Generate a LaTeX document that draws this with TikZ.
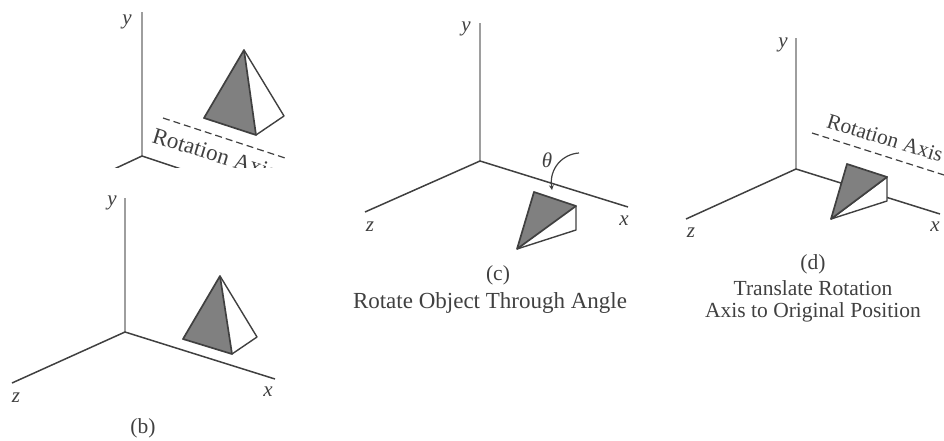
\documentclass[tikz,border=0pt]{standalone}
\usepackage{fontspec}
\setmainfont{Liberation Serif}
\usepackage{xcolor}
\usepackage{tikz}

\definecolor{facegray}{gray}{0.5}
\definecolor{axisgray}{gray}{0.62}
\definecolor{inkgray}{gray}{0.25}

\begin{document}
\begin{tikzpicture}[
  x=1pt,y=-1pt,
  axisx/.style={draw=inkgray,line width=1.5pt},
  axisy/.style={draw=axisgray,line width=1.9pt},
  pyredge/.style={draw=inkgray,line width=1.4pt,line join=round},
  pyrface/.style={draw=inkgray,fill=facegray,line width=1.7pt,line join=round},
  rotaxis/.style={draw=inkgray,line width=1.2pt,dash pattern=on 7pt off 4pt},
  axislabel/.style={inner sep=0pt,text=inkgray,font=\fontsize{21}{21}\selectfont\itshape},
  caption/.style={inner sep=0pt,text=inkgray,align=center,font=\fontsize{21.5}{22}\selectfont},
  rotlabel/.style={inner sep=0pt,text=inkgray,font=\fontsize{21.5}{22}\selectfont}
]
\useasboundingbox (0,0) rectangle (944,441);

% Panel a, cut off at the bottom
\begin{scope}
  \clip (100,0) rectangle (300,167);
  \coordinate (ao) at (142,156);
  \coordinate (ay) at (142,12);
  \coordinate (az) at (112,170);
  \coordinate (ax) at (184,170);
  \draw[axisy] (ao) -- (ay);
  \draw[axisx] (az) -- (ao) -- (ax);
  \coordinate (aaxis1) at (163,118);
  \coordinate (aaxis2) at (285,158);
  \draw[rotaxis] (aaxis1) -- (aaxis2);
  \node[rotlabel,rotate=-17,anchor=west,font=\fontsize{23}{23}\selectfont] (arot) at (153,135) {Rotation Axis};
  \node[axislabel] (aylabel) at (127,22) {y};
  % pyramid
  \coordinate (atop) at (244,50);
  \coordinate (aleft) at (204,118);
  \coordinate (afront) at (256,135);
  \coordinate (aright) at (284,116);
  \draw[pyredge] (atop) -- (aright) -- (afront);
  \draw[pyrface] (atop) -- (aleft) -- (afront) -- cycle;
\end{scope}

% Panel b
\coordinate (bo) at (125,332);
\coordinate (by) at (125,198);
\coordinate (bz) at (12,383);
\coordinate (bx) at (275,379);
\draw[axisy] (bo) -- (by);
\draw[axisx] (bz) -- (bo) -- (bx);
\node[axislabel] (bylabel) at (112,203) {y};
\node[axislabel] (bzlabel) at (16,398) {z};
\node[axislabel] (bxlabel) at (268,392) {x};
\coordinate (btop) at (220,276);
\coordinate (bleft) at (183,339);
\coordinate (bfront) at (232,354);
\coordinate (bright) at (257,337);
\draw[pyredge] (btop) -- (bright) -- (bfront);
\draw[pyrface] (btop) -- (bleft) -- (bfront) -- cycle;
\node[caption] (bcap) at (143,428) {(b)};

% Panel c
\coordinate (co) at (480,161);
\coordinate (cy) at (480,23);
\coordinate (cz) at (365,212);
\coordinate (cx) at (628,207);
\draw[axisy] (co) -- (cy);
\draw[axisx] (cz) -- (co) -- (cx);
\node[axislabel] (cylabel) at (466,29) {y};
\node[axislabel] (czlabel) at (370,227) {z};
\node[axislabel] (cxlabel) at (624,221) {x};
\coordinate (cback) at (534,192);
\coordinate (cright) at (576,206);
\coordinate (cfront) at (517,249);
\coordinate (clow) at (576,230);
\draw[pyredge] (cright) -- (clow) -- (cfront);
\draw[pyrface] (cback) -- (cright) -- (cfront) -- cycle;
\node[axislabel] (ctheta) at (547,160) {θ};
\coordinate (cbend) at (579,153);
\coordinate (ctip) at (552,190);
\draw[inkgray,line width=1.2pt,-stealth] (cbend) .. controls (563,154) and (549,168) .. (ctip);
\node[caption] (ccap) at (498,275) {(c)};
\node[caption,font=\fontsize{23}{23}\selectfont] (ctext) at (490,303) {Rotate Object Through Angle};

% Panel d
\coordinate (do) at (796,169);
\coordinate (dy) at (796,38);
\coordinate (dz) at (686,219);
\coordinate (dx) at (940,214);
\draw[axisy] (do) -- (dy);
\draw[axisx] (dz) -- (do) -- (dx);
\node[axislabel] (dylabel) at (783,45) {y};
\node[axislabel] (dzlabel) at (691,233) {z};
\node[axislabel] (dxlabel) at (935,227) {x};
\coordinate (daxis1) at (812,133);
\coordinate (daxis2) at (944,175);
\draw[rotaxis] (daxis1) -- (daxis2);
\node[rotlabel,rotate=-17] (drot) at (885,138) {Rotation Axis};
\coordinate (dback) at (847,164);
\coordinate (dright) at (887,177);
\coordinate (dfront) at (831,219);
\coordinate (dlow) at (887,201);
\draw[pyredge,fill=white] (dright) -- (dlow) -- (dfront) -- cycle;
\draw[pyrface] (dback) -- (dright) -- (dfront) -- cycle;
\node[caption] (dcap) at (813,264) {(d)};
\node[caption] (dtext) at (813,301) {Translate Rotation\\Axis to Original Position};

\end{tikzpicture}
\end{document}
